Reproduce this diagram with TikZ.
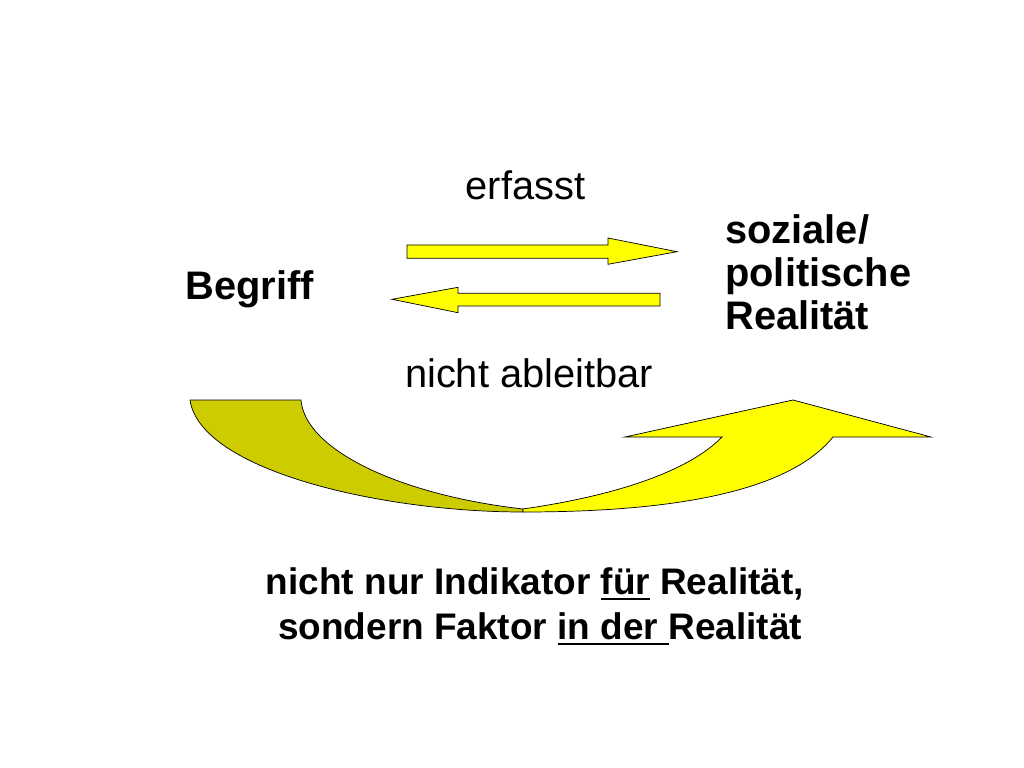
\documentclass[tikz,border=0pt]{standalone}
\usepackage{fontspec}
\setmainfont{Liberation Sans}
\usepackage{tikz}
\usetikzlibrary{positioning}
\definecolor{gelb}{HTML}{FFFF00}
\definecolor{olivgelb}{HTML}{CCCC00}
\newsavebox{\strichbox}
\newcommand{\unterstrich}[1]{\sbox{\strichbox}{#1}\rlap{\rule[-4.2pt]{\wd\strichbox}{1.4pt}}\usebox{\strichbox}}

\begin{document}
\begin{tikzpicture}[x=0.703125pt, y=-0.703125pt,
    txt/.style={inner sep=0pt, font=\fontsize{28}{30}\selectfont},
    txtbf/.style={inner sep=0pt, font=\fontsize{28}{30}\selectfont\bfseries},
    blockpfeil/.style={fill=gelb, draw=black, line width=0.5pt, line join=miter}]
  \useasboundingbox (0,0) rectangle (1024,768);
  % ---- labels ----
  \node[txt, anchor=base] (erfasst) at (525.5,200) {erfasst};
  \node[txtbf, anchor=base west] (begriff) at (185,299) {Begriff};
  \node[txtbf, anchor=base west, align=left] (realitaet) at (725,329) {soziale/\\politische\\Realität};
  \node[txt, anchor=base] (ableitbar) at (529,387) {nicht ableitbar};
  % ---- block arrows ----
  \draw[blockpfeil] (407,245) -- (608,245) -- (608,238) -- (677,251.7)
    -- (608,264.3) -- (608,258.3) -- (407,258.3) -- cycle;
  \draw[blockpfeil] (660,293.3) -- (458,293.3) -- (458,287.3) -- (392,299.3)
    -- (458,312.7) -- (458,306) -- (660,306) -- cycle;
  % ---- curved arrow (back part) ----
  \draw[fill=olivgelb, line width=0.5pt] (190,400) -- (301,400)
    .. controls (305,450) and (400,495) .. (523,509) -- (523,512)
    .. controls (380,512) and (200,470) .. (190,400) -- cycle;
  % ---- curved arrow (front part with head) ----
  \draw[fill=gelb, line width=0.5pt, line join=miter] (523,509)
    .. controls (620,495) and (690,470) .. (722,437) -- (625,437) -- (793,400)
    -- (931,437) -- (833,437) .. controls (790,490) and (680,512) .. (523,512) -- cycle;
  % ---- conclusion ----
  \node[inner sep=0pt, anchor=base, align=center,
    font=\fontsize{26}{31.6}\selectfont\bfseries] (fazit) at (535,639)
    {nicht nur Indikator \unterstrich{für} Realität,\\
     ~sondern Faktor \unterstrich{in der\ }Realität};
\end{tikzpicture}
\end{document}
